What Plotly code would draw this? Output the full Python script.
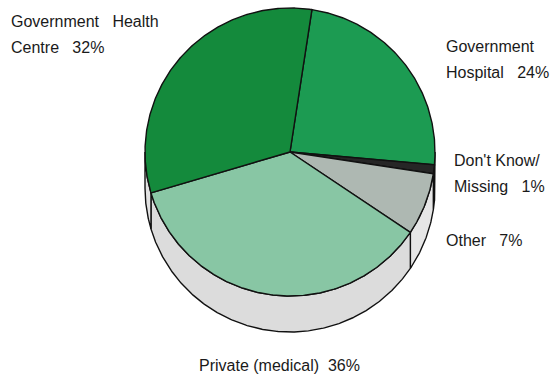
import numpy as np
import plotly.graph_objects as go

# Sources of care (percent of respondents)
categories = ["Government Hospital", "Don't Know/ Missing", "Other", "Private (medical)", "Government Health Centre"]
shares = [24, 1, 7, 36, 32]
label_lines = [
    ["Government", "Hospital   24%"],
    ["Don't Know/", "Missing   1%"],
    ["Other   7%"],
    ["Private (medical)  36%"],
    ["Government   Health", "Centre   32%"],
]
top_colors = ["#1c9b52", "#262626", "#aeb8b2", "#88c6a4", "#148a3c"]
side_colors = ["#d8d8d8", "#4a4a4a", "#e6e6e6", "#dcdcdc", "#e2e2e2"]

# Pie geometry in page pixels
CX, CY = 290.0, 152.0
RX, RY = 145.0, 144.0
DEPTH = 36.0
START = 8.7  # degrees clockwise from twelve o'clock

W, H = 550, 375


def pt(a_deg, dy=0.0):
    a = np.radians(a_deg)
    return CX + RX * np.sin(a), CY - RY * np.cos(a) + dy


def arc(a0, a1, dy=0.0, n=None):
    if n is None:
        n = max(2, int(abs(a1 - a0) * 2) + 2)
    a = np.linspace(a0, a1, n)
    x, y = pt(a, dy)
    return list(x), list(y)


total = float(sum(shares))
bounds = [START]
for s in shares:
    bounds.append(bounds[-1] + 360.0 * s / total)

fig = go.Figure()
line = dict(color="#111111", width=1.4)

# Side walls: only the front half (90..270 deg) faces the viewer
for i in range(len(shares)):
    a0, a1 = bounds[i], bounds[i + 1]
    lo, hi = max(a0, 90.0), min(a1, 270.0)
    if hi <= lo:
        continue
    xt, yt = arc(lo, hi)
    xb, yb = arc(hi, lo, DEPTH)
    fig.add_trace(go.Scatter(
        x=xt + xb + [xt[0]], y=yt + yb + [yt[0]],
        mode="lines", fill="toself", fillcolor=side_colors[i],
        line=line, hoverinfo="skip", showlegend=False))

# Top faces
for i in range(len(shares)):
    a0, a1 = bounds[i], bounds[i + 1]
    xa, ya = arc(a0, a1)
    fig.add_trace(go.Scatter(
        x=[CX] + xa + [CX], y=[CY] + ya + [CY],
        mode="lines", fill="toself", fillcolor=top_colors[i],
        line=line, hoverinfo="text", text=categories[i], showlegend=False))

# Label placement: left edge and first baseline (page pixels), line pitch
FS = 16
label_pos = [(445, 53), (453, 167), (445, 247), (198, 372), (10, 28)]
PITCH = 26
font = dict(family="Liberation Sans, Arial, sans-serif", size=FS, color="#1a1a1a")
for lines, (x, base) in zip(label_lines, label_pos):
    for k, txt in enumerate(lines):
        fig.add_annotation(x=x, y=base + k * PITCH - FS, xref="x", yref="y", text=txt,
                           showarrow=False, xanchor="left", yanchor="top", align="left",
                           font=font, borderpad=0)

fig.update_layout(
    width=W, height=H,
    margin=dict(l=0, r=0, t=0, b=0),
    paper_bgcolor="white", plot_bgcolor="white",
    xaxis=dict(range=[0, W], visible=False, fixedrange=True),
    yaxis=dict(range=[H, 0], visible=False, fixedrange=True),
)

fig.write_html("out.html")
